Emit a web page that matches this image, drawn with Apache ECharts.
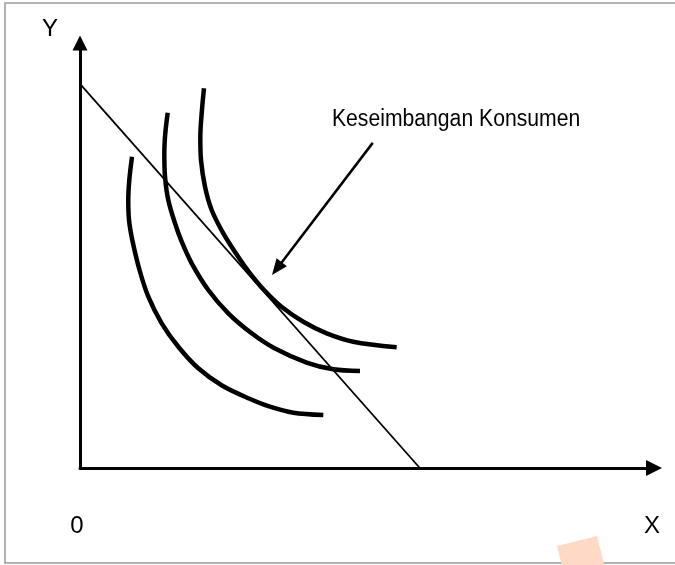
<!DOCTYPE html>
<html>
<head>
<meta charset="utf-8">
<script src="https://cdn.jsdelivr.net/npm/echarts@6/dist/echarts.min.js"></script>
<style>
html,body{margin:0;padding:0;background:#fff;}
#chart{width:675px;height:565px;}
</style>
</head>
<body>
<div id="chart"></div>
<script>
// Data (axis units: x 0..100, y 0..100)
var budgetLine = [[0, 90.4], [59.2, 0]];
var curve1 = [[9.06,73.25],[8.59,67.76],[8.41,63.06],[8.54,58.35],[9.11,53.65],[10.37,46.59],[11.90,40.31],[14.23,34.05],[17.13,28.54],[20.61,23.46],[24.74,19.41],[29.44,16.35],[33.10,14.42],[37.16,13.01],[42.39,12.47]];
var curve2 = [[15.28,83.60],[14.86,78.75],[14.69,74.05],[14.81,68.54],[15.38,63.06],[16.55,57.58],[17.72,53.25],[19.46,48.16],[22.35,41.88],[25.84,36.40],[29.91,31.69],[33.80,28.24],[39.49,24.82],[44.13,23.22],[48.78,22.82]];
var curve3 = [[21.60,89.34],[21.20,83.46],[20.96,77.95],[21.08,72.47],[21.78,66.19],[22.94,60.71],[24.97,55.22],[27.70,49.41],[29.62,45.81],[32.06,41.88],[35.10,37.95],[38.90,34.42],[42.98,31.69],[47.61,29.72],[55.17,28.40]];
var arrowStart = [51.0, 76.5];
var arrowEnd = [34.3, 46.9];
var annotationPos = [43.9, 81.9];
var annotationText = 'Keseimbangan Konsumen';
var axisNames = { x: 'X', y: 'Y', origin: '0' };

var chart = echarts.init(document.getElementById('chart'), null, {renderer: 'canvas'});

function curveSeries(data) {
  return {
    type: 'line', data: data, smooth: 0.33, symbol: 'none',
    lineStyle: {color: '#000', width: 4.5, cap: 'butt', join: 'round'},
    silent: true, z: 3
  };
}

var labelFont = '"Liberation Sans", Arial, sans-serif';
var option = {
  animation: false,
  backgroundColor: '#fff',
  grid: {left: 80, right: 21, top: 43, bottom: 97, containLabel: false},
  xAxis: {
    type: 'value', min: 0, max: 100,
    axisLine: {show: true, onZero: false, symbol: ['none', 'triangle'], symbolSize: [16, 16],
      lineStyle: {color: '#000', width: 3}},
    axisTick: {show: false}, axisLabel: {show: false}, splitLine: {show: false}
  },
  yAxis: {
    type: 'value', min: 0, max: 100,
    axisLine: {show: true, onZero: false, symbol: ['none', 'triangle'], symbolSize: [15, 15],
      lineStyle: {color: '#000', width: 3}},
    axisTick: {show: false}, axisLabel: {show: false}, splitLine: {show: false}
  },
  series: [
    {
      type: 'line', data: budgetLine, symbol: 'none', silent: true,
      lineStyle: {color: '#000', width: 1.8}, z: 2
    },
    curveSeries(curve1),
    curveSeries(curve2),
    curveSeries(curve3),
    {
      type: 'line', data: [], silent: true,
      markLine: {
        silent: true, animation: false,
        symbol: ['none', 'triangle'], symbolSize: [13, 16],
        label: {show: false},
        lineStyle: {color: '#000', width: 2.5, type: 'solid'},
        data: [[{coord: arrowStart}, {coord: arrowEnd}]]
      }
    }
  ],
  graphic: [
    {type: 'rect', shape: {x: 5, y: 3, width: 700, height: 560}, style: {fill: 'none', stroke: '#9a9a9a', lineWidth: 1.5}, z: 0, silent: true},
    {type: 'polygon', shape: {points: [[557,546],[597,536],[607,576],[567,586]]}, style: {fill: '#fdd9c6'}, z: 0, silent: true},
    {type: 'text', x: 50, y: 29, style: {text: axisNames.y, fontSize: 24, fontFamily: labelFont, fill: '#000', textAlign: 'center', textVerticalAlign: 'middle'}},
    {type: 'text', x: 77, y: 526, style: {text: axisNames.origin, fontSize: 24, fontFamily: labelFont, fill: '#000', textAlign: 'center', textVerticalAlign: 'middle'}},
    {type: 'text', x: 652, y: 526, style: {text: axisNames.x, fontSize: 24, fontFamily: labelFont, fill: '#000', textAlign: 'center', textVerticalAlign: 'middle'}}
  ]
};
chart.setOption(option);

// annotation text placed at its data position, horizontally condensed like the original
var p = chart.convertToPixel({gridIndex: 0}, annotationPos);
chart.setOption({
  graphic: option.graphic.concat([{
    type: 'text', x: p[0], y: p[1], scaleX: 0.92, scaleY: 1,
    style: {text: annotationText, fontSize: 23, fontFamily: labelFont, fill: '#000', textAlign: 'left', textVerticalAlign: 'middle'}
  }])
});
</script>
</body>
</html>
